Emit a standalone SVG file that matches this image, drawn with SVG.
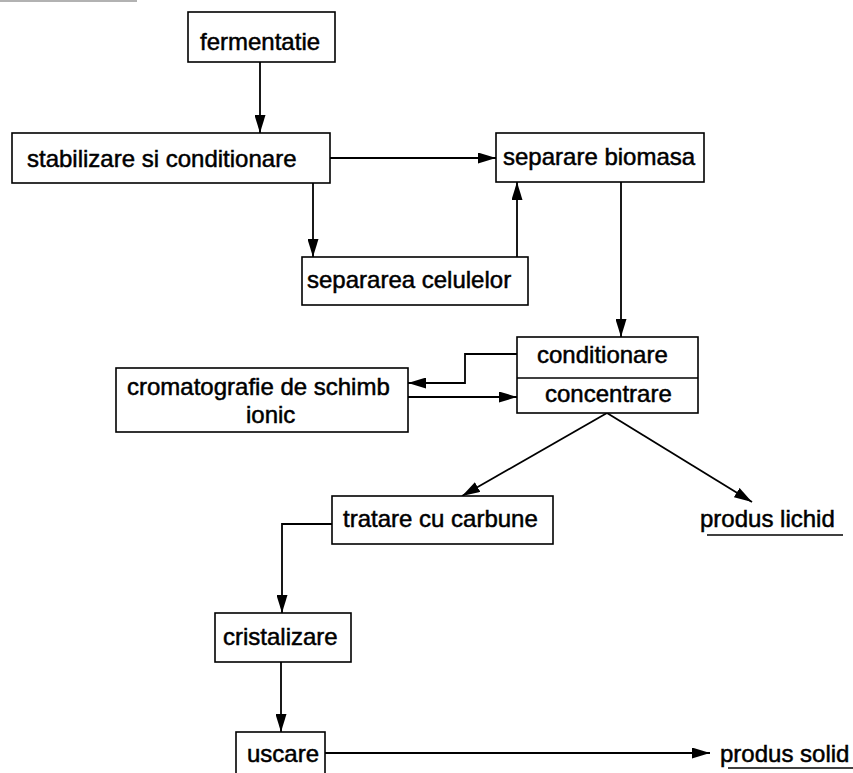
<svg xmlns="http://www.w3.org/2000/svg" width="853" height="773" viewBox="0 0 853 773">
<style>
.box{fill:#fff;stroke:#000;stroke-width:1.6}
.t{font-family:"Liberation Sans",Arial,sans-serif;font-size:24px;fill:#000;stroke:#000;stroke-width:0.5}
.c{fill:none;stroke:#000;stroke-width:1.8}
.u{stroke:#000;stroke-width:1.6}
</style>
<defs>
<marker id="ah" markerUnits="userSpaceOnUse" markerWidth="18" markerHeight="11" refX="18" refY="5.5" orient="auto">
<path d="M0,0 L18,5.5 L0,11 z" fill="#000"/>
</marker>
</defs>
<rect width="853" height="773" fill="#fff"/>
<line x1="0" y1="1" x2="137" y2="1" stroke="#999" stroke-width="1.5"/>
<g id="connectors">
<line class="c" x1="260" y1="62" x2="260" y2="133" marker-end="url(#ah)"/>
<line class="c" x1="330" y1="158" x2="496" y2="158" marker-end="url(#ah)"/>
<line class="c" x1="313" y1="183" x2="313" y2="257" marker-end="url(#ah)"/>
<line class="c" x1="517" y1="257" x2="517" y2="182" marker-end="url(#ah)"/>
<line class="c" x1="621" y1="182" x2="621" y2="337" marker-end="url(#ah)"/>
<polyline class="c" points="517,354 465,354 465,383 408,383" marker-end="url(#ah)"/>
<line class="c" x1="408" y1="397" x2="517" y2="397" marker-end="url(#ah)"/>
<line class="c" x1="607" y1="413" x2="462" y2="496" marker-end="url(#ah)"/>
<line class="c" x1="607" y1="413" x2="752" y2="502" marker-end="url(#ah)"/>
<polyline class="c" points="332,524 282,524 282,613" marker-end="url(#ah)"/>
<line class="c" x1="281" y1="662" x2="281" y2="732" marker-end="url(#ah)"/>
<line class="c" x1="325" y1="753" x2="710" y2="753" marker-end="url(#ah)"/>
</g>
<g id="fermentatie">
<rect class="box" x="188" y="12" width="147" height="50"/>
<text class="t" x="200" y="50">fermentatie</text>
</g>
<g id="stabilizare">
<rect class="box" x="12" y="133" width="318" height="50"/>
<text class="t" x="27" y="167">stabilizare si conditionare</text>
</g>
<g id="separare-biomasa">
<rect class="box" x="496" y="133" width="208" height="49"/>
<text class="t" x="503" y="165">separare biomasa</text>
</g>
<g id="separarea-celulelor">
<rect class="box" x="302" y="257" width="226" height="48"/>
<text class="t" x="307" y="288">separarea celulelor</text>
</g>
<g id="conditionare-concentrare">
<rect class="box" x="517" y="337" width="181" height="76"/>
<line class="u" x1="517" y1="378" x2="698" y2="378"/>
<text class="t" x="537" y="363">conditionare</text>
<text class="t" x="545" y="402">concentrare</text>
</g>
<g id="cromatografie">
<rect class="box" x="116" y="368" width="292" height="64"/>
<text class="t" x="127" y="395">cromatografie de schimb</text>
<text class="t" x="246" y="423">ionic</text>
</g>
<g id="tratare">
<rect class="box" x="332" y="496" width="221" height="48"/>
<text class="t" x="343" y="527">tratare cu carbune</text>
</g>
<g id="produs-lichid">
<text class="t" x="700" y="527">produs lichid</text>
<line class="u" x1="707" y1="535" x2="843" y2="535"/>
</g>
<g id="cristalizare">
<rect class="box" x="215" y="613" width="136" height="49"/>
<text class="t" x="223" y="645">cristalizare</text>
</g>
<g id="uscare">
<rect class="box" x="236" y="732" width="89" height="50"/>
<text class="t" x="247" y="762">uscare</text>
</g>
<g id="produs-solid">
<text class="t" x="720" y="762">produs solid</text>
<line class="u" x1="728" y1="768" x2="853" y2="768"/>
</g>
</svg>
